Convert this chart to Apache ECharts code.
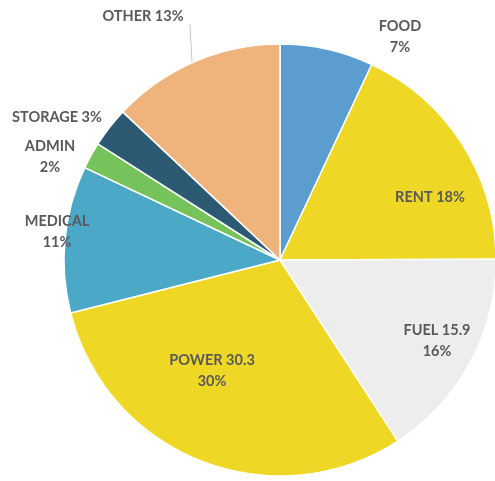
<!DOCTYPE html>
<html>
<head>
<meta charset="utf-8">
<script src="https://cdn.jsdelivr.net/npm/echarts@6/dist/echarts.min.js"></script>
<style>
html,body{margin:0;padding:0;background:#fff;}
#c{width:495px;height:481px;}
</style>
</head>
<body>
<div id="c"></div>
<script>
const categories = ['FOOD','RENT','FUEL','POWER','MEDICAL','ADMIN','STORAGE','OTHER'];
const values = [7, 18, 15.9, 30.3, 11, 2, 3, 13];
const labelTexts = ['FOOD\n7%','RENT 18%','FUEL 15.9\n16%','POWER 30.3\n30%','MEDICAL\n11%','ADMIN\n2%','STORAGE 3%','OTHER 13%'];
const colors = ['#5b9dcf','#efd725','#ededed','#efd725','#4ba8c6','#76c35b','#2b5a72','#efb47c'];
const labelPos = [[400,37],[430,197],[437,341],[212,371],[57,232],[50,157],[57,117],[143,16]];

const chart = echarts.init(document.getElementById('c'));
chart.setOption({
  backgroundColor:'#ffffff',
  animation:false,
  series:[{
    type:'pie',
    center:[280,260],
    radius:216,
    startAngle:90,
    clockwise:true,
    avoidLabelOverlap:false,
    itemStyle:{borderColor:'#ffffff',borderWidth:1.5},
    label:{
      show:true,
      position:'outside',
      overflow:'none',
      alignTo:'none',
      bleedMargin:0,
      formatter:p=>labelTexts[p.dataIndex],
      fontFamily:'Lato',
      fontWeight:'bold',
      fontSize:14.5,
      lineHeight:21,
      color:'#595959',
      align:'center'
    },
    labelLine:{show:false},
    labelLayout:function(p){
      const i = p.dataIndex;
      const pos = labelPos[i];
      const r = {x:pos[0], y:pos[1], align:'center', verticalAlign:'middle', hideOverlap:false, moveOverlap:null};
      if (i === 7) r.labelLinePoints = [[190,24],[191,44],[192,62]];
      return r;
    },
    data:categories.map((c,i)=>({
      name:c,
      value:values[i],
      itemStyle:{color:colors[i]},
      labelLine: i===7 ? {show:true, lineStyle:{color:'#c8c8c8', width:1}} : {show:false}
    }))
  }]
});
</script>
</body>
</html>
